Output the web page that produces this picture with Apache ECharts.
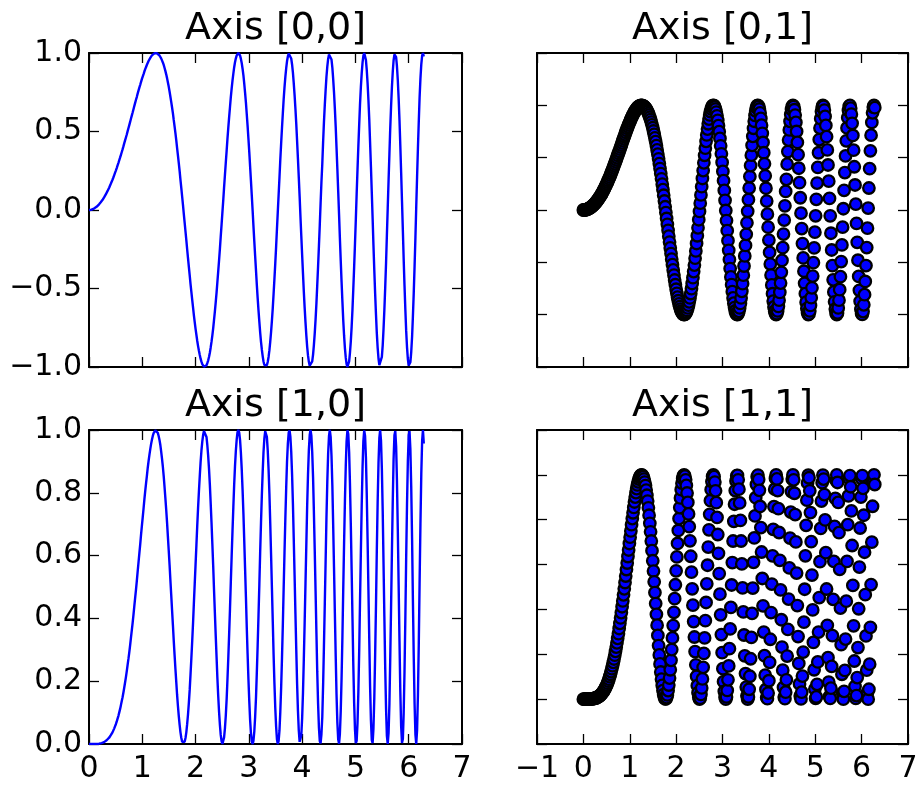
<!DOCTYPE html>
<html><head><meta charset="utf-8">
<script src="https://cdn.jsdelivr.net/npm/echarts/dist/echarts.min.js"></script>
<style>html,body{margin:0;padding:0;background:#fff}#c{width:921px;height:789px}</style>
</head><body><div id="c"></div>
<script>
const X = [
0.000,0.016,0.031,0.047,0.063,0.079,0.094,0.110,0.126,0.142,
0.157,0.173,0.189,0.205,0.220,0.236,0.252,0.268,0.283,0.299,
0.315,0.331,0.346,0.362,0.378,0.394,0.409,0.425,0.441,0.457,
0.472,0.488,0.504,0.520,0.535,0.551,0.567,0.583,0.598,0.614,
0.630,0.646,0.661,0.677,0.693,0.709,0.724,0.740,0.756,0.772,
0.787,0.803,0.819,0.835,0.850,0.866,0.882,0.898,0.913,0.929,
0.945,0.961,0.976,0.992,1.008,1.024,1.039,1.055,1.071,1.087,
1.102,1.118,1.134,1.150,1.165,1.181,1.197,1.213,1.228,1.244,
1.260,1.276,1.291,1.307,1.323,1.339,1.354,1.370,1.386,1.402,
1.417,1.433,1.449,1.465,1.480,1.496,1.512,1.527,1.543,1.559,
1.575,1.590,1.606,1.622,1.638,1.653,1.669,1.685,1.701,1.716,
1.732,1.748,1.764,1.779,1.795,1.811,1.827,1.842,1.858,1.874,
1.890,1.905,1.921,1.937,1.953,1.968,1.984,2.000,2.016,2.031,
2.047,2.063,2.079,2.094,2.110,2.126,2.142,2.157,2.173,2.189,
2.205,2.220,2.236,2.252,2.268,2.283,2.299,2.315,2.331,2.346,
2.362,2.378,2.394,2.409,2.425,2.441,2.457,2.472,2.488,2.504,
2.520,2.535,2.551,2.567,2.583,2.598,2.614,2.630,2.646,2.661,
2.677,2.693,2.709,2.724,2.740,2.756,2.772,2.787,2.803,2.819,
2.835,2.850,2.866,2.882,2.898,2.913,2.929,2.945,2.960,2.976,
2.992,3.008,3.023,3.039,3.055,3.071,3.086,3.102,3.118,3.134,
3.149,3.165,3.181,3.197,3.212,3.228,3.244,3.260,3.275,3.291,
3.307,3.323,3.338,3.354,3.370,3.386,3.401,3.417,3.433,3.449,
3.464,3.480,3.496,3.512,3.527,3.543,3.559,3.575,3.590,3.606,
3.622,3.638,3.653,3.669,3.685,3.701,3.716,3.732,3.748,3.764,
3.779,3.795,3.811,3.827,3.842,3.858,3.874,3.890,3.905,3.921,
3.937,3.953,3.968,3.984,4.000,4.016,4.031,4.047,4.063,4.079,
4.094,4.110,4.126,4.142,4.157,4.173,4.189,4.205,4.220,4.236,
4.252,4.268,4.283,4.299,4.315,4.331,4.346,4.362,4.378,4.394,
4.409,4.425,4.441,4.456,4.472,4.488,4.504,4.519,4.535,4.551,
4.567,4.582,4.598,4.614,4.630,4.645,4.661,4.677,4.693,4.708,
4.724,4.740,4.756,4.771,4.787,4.803,4.819,4.834,4.850,4.866,
4.882,4.897,4.913,4.929,4.945,4.960,4.976,4.992,5.008,5.023,
5.039,5.055,5.071,5.086,5.102,5.118,5.134,5.149,5.165,5.181,
5.197,5.212,5.228,5.244,5.260,5.275,5.291,5.307,5.323,5.338,
5.354,5.370,5.386,5.401,5.417,5.433,5.449,5.464,5.480,5.496,
5.512,5.527,5.543,5.559,5.575,5.590,5.606,5.622,5.638,5.653,
5.669,5.685,5.701,5.716,5.732,5.748,5.764,5.779,5.795,5.811,
5.827,5.842,5.858,5.874,5.890,5.905,5.921,5.937,5.952,5.968,
5.984,6.000,6.015,6.031,6.047,6.063,6.078,6.094,6.110,6.126,
6.141,6.157,6.173,6.189,6.204,6.220,6.236,6.252,6.267,6.283
];
const Y = [
0,0.000,0.001,0.002,0.004,0.006,0.009,0.012,0.016,0.020,
0.025,0.030,0.036,0.042,0.049,0.056,0.063,0.072,0.080,0.089,
0.099,0.109,0.120,0.131,0.142,0.154,0.167,0.180,0.193,0.207,
0.221,0.236,0.251,0.267,0.283,0.299,0.316,0.333,0.350,0.368,
0.386,0.405,0.424,0.443,0.462,0.481,0.501,0.521,0.541,0.561,
0.581,0.601,0.621,0.642,0.662,0.682,0.702,0.721,0.741,0.760,
0.779,0.797,0.815,0.833,0.850,0.866,0.882,0.897,0.911,0.925,
0.937,0.949,0.960,0.969,0.977,0.985,0.990,0.995,0.998,1.000,
1.000,0.998,0.995,0.991,0.984,0.976,0.966,0.953,0.940,0.924,
0.906,0.886,0.864,0.840,0.814,0.786,0.755,0.723,0.689,0.653,
0.615,0.574,0.533,0.489,0.443,0.396,0.348,0.298,0.247,0.194,
0.141,0.086,0.031,-0.025,-0.081,-0.137,-0.194,-0.250,-0.306,-0.362,
-0.416,-0.470,-0.522,-0.573,-0.622,-0.669,-0.714,-0.757,-0.796,-0.833,
-0.867,-0.897,-0.924,-0.947,-0.966,-0.981,-0.992,-0.998,-1.000,-0.997,
-0.989,-0.976,-0.959,-0.936,-0.909,-0.877,-0.840,-0.798,-0.752,-0.702,
-0.647,-0.588,-0.526,-0.460,-0.391,-0.320,-0.246,-0.170,-0.093,-0.014,
0.065,0.144,0.223,0.301,0.377,0.451,0.523,0.591,0.656,0.717,
0.773,0.824,0.869,0.908,0.941,0.966,0.985,0.996,1.000,0.996,
0.984,0.964,0.936,0.900,0.857,0.806,0.748,0.684,0.613,0.537,
0.455,0.369,0.280,0.187,0.092,-0.005,-0.101,-0.198,-0.293,-0.385,
-0.474,-0.560,-0.639,-0.713,-0.780,-0.840,-0.890,-0.932,-0.965,-0.987,
-0.998,-0.999,-0.989,-0.968,-0.936,-0.893,-0.840,-0.777,-0.704,-0.623,
-0.535,-0.439,-0.338,-0.232,-0.123,-0.012,0.099,0.210,0.319,0.424,
0.524,0.618,0.704,0.781,0.848,0.904,0.947,0.978,0.996,1.000,
0.989,0.965,0.927,0.875,0.810,0.733,0.645,0.547,0.441,0.327,
0.208,0.085,-0.040,-0.164,-0.287,-0.405,-0.517,-0.622,-0.716,-0.800,
-0.870,-0.926,-0.967,-0.992,-1.000,-0.991,-0.964,-0.921,-0.862,-0.787,
-0.698,-0.595,-0.482,-0.360,-0.230,-0.096,0.040,0.177,0.293,0.438,
0.558,0.668,0.765,0.847,0.913,0.962,0.991,1.000,0.989,0.958,
0.907,0.837,0.750,0.646,0.529,0.399,0.261,0.117,-0.030,-0.177,
-0.321,-0.458,-0.585,-0.700,-0.799,-0.881,-0.942,-0.982,-0.999,-0.993,
-0.964,-0.912,-0.838,-0.744,-0.631,-0.503,-0.362,-0.212,-0.056,0.102,
0.257,0.407,0.547,0.673,0.783,0.872,0.940,0.982,1.000,0.991,
0.955,0.894,0.808,0.701,0.574,0.430,0.275,0.111,-0.056,-0.222,
-0.382,-0.532,-0.667,-0.783,-0.877,-0.946,-0.988,-1.000,-0.983,-0.936,
-0.862,-0.761,-0.637,-0.493,-0.334,-0.164,0.012,0.188,0.358,0.517,
0.661,0.784,0.882,0.952,0.991,0.999,0.973,0.916,0.828,0.712,
0.572,0.413,0.239,0.056,-0.128,-0.309,-0.480,-0.635,-0.767,-0.873,
-0.949,-0.991,-0.998,-0.970,-0.906,-0.809,-0.683,-0.531,-0.359,-0.174,
0.018,0.210,0.395,0.565,0.715,0.837,0.928,0.983,1.000,0.978
];
const Y2 = [
0,0,0,0,0,0,0,0,0,0,
0.001,0.001,0.001,0.002,0.002,0.003,0.004,0.005,0.006,0.008,
0.010,0.012,0.014,0.017,0.020,0.024,0.028,0.032,0.037,0.043,
0.049,0.056,0.063,0.071,0.080,0.089,0.100,0.111,0.123,0.136,
0.149,0.164,0.179,0.196,0.213,0.232,0.251,0.271,0.292,0.315,
0.338,0.362,0.386,0.412,0.438,0.465,0.492,0.520,0.549,0.578,
0.607,0.636,0.665,0.694,0.722,0.750,0.778,0.805,0.831,0.855,
0.879,0.901,0.921,0.939,0.955,0.969,0.981,0.990,0.996,0.999,
1.000,0.997,0.991,0.981,0.968,0.952,0.932,0.909,0.883,0.853,
0.820,0.784,0.746,0.705,0.662,0.617,0.571,0.523,0.475,0.426,
0.378,0.330,0.284,0.239,0.197,0.157,0.121,0.089,0.061,0.038,
0.020,0.007,0.001,0.001,0.007,0.019,0.038,0.063,0.094,0.131,
0.173,0.221,0.273,0.328,0.387,0.448,0.510,0.572,0.634,0.694,
0.752,0.805,0.854,0.897,0.934,0.963,0.984,0.997,1.000,0.994,
0.978,0.953,0.919,0.877,0.826,0.769,0.706,0.637,0.566,0.492,
0.419,0.346,0.277,0.212,0.153,0.102,0.060,0.029,0.009,0.000,
0.004,0.021,0.050,0.090,0.142,0.204,0.273,0.350,0.431,0.514,
0.597,0.678,0.755,0.824,0.885,0.934,0.970,0.993,1.000,0.992,
0.968,0.929,0.876,0.810,0.734,0.650,0.560,0.468,0.376,0.288,
0.207,0.136,0.078,0.035,0.008,0.000,0.010,0.039,0.086,0.148,
0.225,0.313,0.409,0.509,0.609,0.705,0.793,0.869,0.930,0.973,
0.996,0.998,0.978,0.936,0.875,0.797,0.705,0.603,0.496,0.389,
0.286,0.193,0.114,0.054,0.015,0.000,0.010,0.044,0.102,0.180,
0.275,0.382,0.495,0.610,0.719,0.817,0.898,0.957,0.992,0.999,
0.979,0.931,0.859,0.765,0.656,0.538,0.416,0.299,0.194,0.107,
0.043,0.007,0.002,0.027,0.082,0.164,0.267,0.386,0.513,0.639,
0.757,0.858,0.936,0.984,1.000,0.982,0.930,0.849,0.743,0.619,
0.487,0.354,0.232,0.129,0.053,0.009,0.002,0.031,0.086,0.192,
0.311,0.446,0.585,0.718,0.834,0.925,0.981,1.000,0.978,0.918,
0.823,0.701,0.562,0.417,0.279,0.159,0.068,0.014,0.001,0.031,
0.103,0.210,0.343,0.490,0.639,0.775,0.887,0.964,0.999,0.987,
0.929,0.832,0.702,0.553,0.398,0.253,0.131,0.045,0.003,0.010,
0.066,0.166,0.299,0.453,0.613,0.761,0.883,0.965,0.999,0.981,
0.912,0.799,0.653,0.491,0.329,0.185,0.076,0.012,0.003,0.049,
0.146,0.283,0.445,0.614,0.770,0.895,0.975,1.000,0.966,0.877,
0.742,0.579,0.406,0.243,0.111,0.027,0.000,0.035,0.128,0.268,
0.437,0.614,0.778,0.906,0.983,0.997,0.947,0.839,0.685,0.507,
0.327,0.170,0.057,0.003,0.016,0.096,0.230,0.403,0.589,0.763,
0.901,0.983,0.997,0.940,0.820,0.655,0.466,0.282,0.129,0.030,
0.000,0.044,0.156,0.320,0.511,0.700,0.860,0.966,1.000,0.957
];

const titles = ['Axis [0,0]', 'Axis [0,1]', 'Axis [1,0]', 'Axis [1,1]'];
const xTicksLeft  = [0, 1, 2, 3, 4, 5, 6, 7];
const xTicksRight = [-1, 0, 1, 2, 3, 4, 5, 6, 7];
const yTicksTL = [-1.0, -0.5, 0.0, 0.5, 1.0];
const yTicksTR = [-1.5, -1.0, -0.5, 0.0, 0.5, 1.0, 1.5];
const yTicksBL = [0.0, 0.2, 0.4, 0.6, 0.8, 1.0];
const yTicksBR = [-0.2, 0.0, 0.2, 0.4, 0.6, 0.8, 1.0, 1.2];

const FONT = 'DejaVu Sans';
const TICK_FS = 30;
const TITLE_FS = 38;

function range(t) { return { min: t[0], max: t[t.length - 1], interval: +(t[1] - t[0]).toFixed(6) }; }
function fmt(dec) {
  return function (v) {
    let s = dec === 0 ? String(Math.round(v)) : (+v).toFixed(dec);
    if (/^-0(\.0+)?$/.test(s)) s = s.slice(1);
    return s.replace('-', '\u2212');
  };
}
const lineS = { color: '#000', width: 2 };
function mkAxis(g, ticks, pos, showLabel, dec, margin) {
  const r = range(ticks);
  return {
    gridIndex: g, type: 'value', position: pos,
    min: r.min, max: r.max, interval: r.interval,
    axisLine: { show: true, onZero: false, lineStyle: lineS },
    axisTick: { show: true, inside: true, length: 10, lineStyle: { color: '#000', width: 1.3 } },
    axisLabel: { show: showLabel, margin: margin, color: '#000', fontFamily: FONT, fontSize: TICK_FS,
      formatter: fmt(dec), showMinLabel: true, showMaxLabel: true, hideOverlap: false },
    splitLine: { show: false }
  };
}

const grids = [
  { left: 89,  top: 53,  width: 373, height: 314 },
  { left: 537, top: 53,  width: 371, height: 314 },
  { left: 89,  top: 430, width: 373, height: 314 },
  { left: 537, top: 430, width: 371, height: 314 }
];
const xAxes = [
  mkAxis(0, xTicksLeft, 'bottom', false, 0, 10),  mkAxis(0, xTicksLeft, 'top', false, 0, 10),
  mkAxis(1, xTicksRight, 'bottom', false, 0, 10), mkAxis(1, xTicksRight, 'top', false, 0, 10),
  mkAxis(2, xTicksLeft, 'bottom', true, 0, 10),   mkAxis(2, xTicksLeft, 'top', false, 0, 10),
  mkAxis(3, xTicksRight, 'bottom', true, 0, 10),  mkAxis(3, xTicksRight, 'top', false, 0, 10)
];
const yAxes = [
  mkAxis(0, yTicksTL, 'left', true, 1, 7),   mkAxis(0, yTicksTL, 'right', false, 1, 7),
  mkAxis(1, yTicksTR, 'left', false, 1, 7),  mkAxis(1, yTicksTR, 'right', false, 1, 7),
  mkAxis(2, yTicksBL, 'left', true, 1, 7),   mkAxis(2, yTicksBL, 'right', false, 1, 7),
  mkAxis(3, yTicksBR, 'left', false, 1, 7),  mkAxis(3, yTicksBR, 'right', false, 1, 7)
];

const centers = [275.5, 722.5, 275.5, 722.5];
const titleTops = [10, 10, 387, 387];
const titleOpts = titles.map((t, i) => ({
  text: t, left: centers[i], top: titleTops[i], textAlign: 'center', padding: 0,
  textStyle: { fontFamily: FONT, fontSize: TITLE_FS, fontWeight: 'normal', color: '#000' }
}));

const d1 = X.map((x, i) => [x, Y[i]]);
const d2 = X.map((x, i) => [x, Y2[i]]);
const lineStyle = { color: '#0000ff', width: 2.4 };
const scatterItem = { color: '#0000ff', borderColor: '#000', borderWidth: 2.3, opacity: 1 };

const chart = echarts.init(document.getElementById('c'), null, { renderer: 'canvas' });
chart.setOption({
  animation: false,
  backgroundColor: '#fff',
  title: titleOpts,
  grid: grids,
  xAxis: xAxes,
  yAxis: yAxes,
  series: [
    { type: 'line', xAxisIndex: 0, yAxisIndex: 0, data: d1, showSymbol: false, symbol: 'none', lineStyle: lineStyle, silent: true },
    { type: 'scatter', xAxisIndex: 2, yAxisIndex: 2, data: d1, symbolSize: 11.5, itemStyle: scatterItem, silent: true },
    { type: 'line', xAxisIndex: 4, yAxisIndex: 4, data: d2, showSymbol: false, symbol: 'none', lineStyle: lineStyle, silent: true },
    { type: 'scatter', xAxisIndex: 6, yAxisIndex: 6, data: d2, symbolSize: 11.5, itemStyle: scatterItem, silent: true }
  ]
});
</script>
</body></html>
